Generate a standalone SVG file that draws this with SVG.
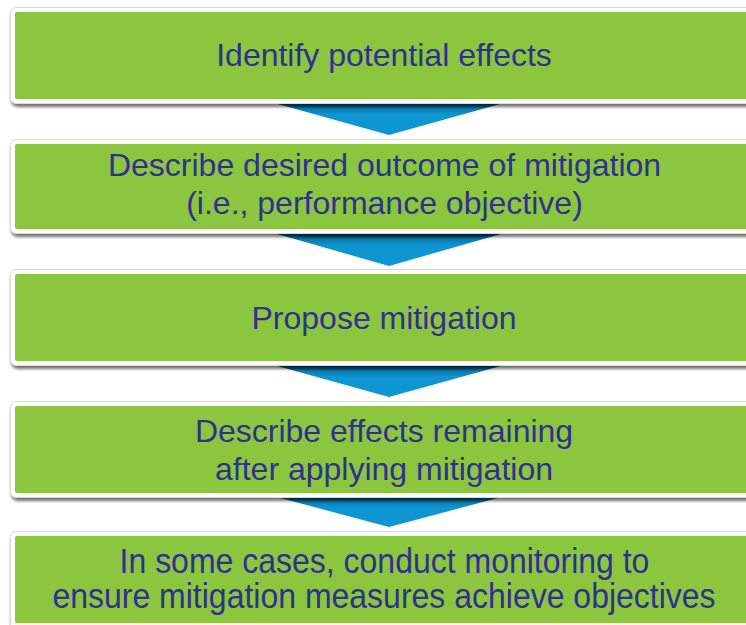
<svg xmlns="http://www.w3.org/2000/svg" width="746" height="625" viewBox="0 0 746 625">
  <defs>
    <filter id="sh" x="-5%" y="-20%" width="110%" height="150%">
      <feDropShadow dx="1" dy="3" stdDeviation="1.6" flood-color="#000" flood-opacity="0.55"/>
    </filter>
    <linearGradient id="tri" x1="0" y1="0" x2="0" y2="1">
      <stop offset="0" stop-color="#04344f"/>
      <stop offset="0.22" stop-color="#0b7bb0"/>
      <stop offset="0.4" stop-color="#0e96d3"/>
      <stop offset="1" stop-color="#0e96d3"/>
    </linearGradient>
    <style>
      .outer { fill: #ffffff; stroke: #d9d9d9; stroke-width: 1; filter: url(#sh); }
      .inner { fill: #8cc63f; }
      .lbl { font-family: "Liberation Sans", Arial, sans-serif; font-size: 32px; fill: #2e3192; text-anchor: middle; }
      .arrow { fill: url(#tri); }
    </style>
  </defs>

  <g id="connectors">
    <polygon class="arrow" points="267,101 511,101 389,135"/>
    <polygon class="arrow" points="270,232 508,232 389,266"/>
    <polygon class="arrow" points="270,364 508,364 389,397"/>
    <polygon class="arrow" points="269,495 509,495 389,527"/>
  </g>

  <g id="node1">
    <rect class="outer" x="10.5" y="7.5" width="760" height="96" rx="6"/>
    <rect class="inner" x="15" y="12" width="760" height="87" rx="2"/>
    <text class="lbl" x="384" y="66">Identify potential effects</text>
  </g>

  <g id="node2">
    <rect class="outer" x="10.5" y="139.5" width="760" height="94" rx="6"/>
    <rect class="inner" x="15" y="144" width="760" height="85" rx="2"/>
    <text class="lbl" x="384.5" y="176">Describe desired outcome of mitigation</text>
    <text class="lbl" x="384.5" y="214">(i.e., performance objective)</text>
  </g>

  <g id="node3">
    <rect class="outer" x="10.5" y="269.5" width="760" height="96" rx="6"/>
    <rect class="inner" x="15" y="274" width="760" height="87" rx="2"/>
    <text class="lbl" x="384" y="329">Propose mitigation</text>
  </g>

  <g id="node4">
    <rect class="outer" x="10.5" y="401.5" width="760" height="96" rx="6"/>
    <rect class="inner" x="15" y="406" width="760" height="87" rx="2"/>
    <text class="lbl" x="384" y="442">Describe effects remaining</text>
    <text class="lbl" x="384" y="480">after applying mitigation</text>
  </g>

  <g id="node5">
    <rect class="outer" x="10.5" y="531.5" width="760" height="100" rx="6"/>
    <rect class="inner" x="15" y="536" width="760" height="87" rx="2"/>
    <text class="lbl" x="384.5" y="573" transform="translate(0,573) scale(1,1.1) translate(0,-573)">In some cases, conduct monitoring to</text>
    <text class="lbl" x="384" y="608" transform="translate(0,608) scale(1,1.1) translate(0,-608)">ensure mitigation measures achieve objectives</text>
  </g>
</svg>
